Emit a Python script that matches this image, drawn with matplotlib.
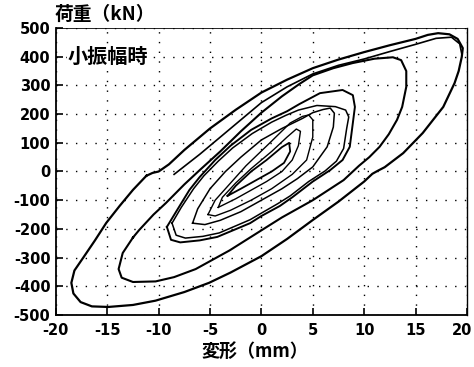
import matplotlib
matplotlib.use("Agg")
import matplotlib.pyplot as plt
from matplotlib.transforms import ScaledTranslation

plt.rcParams['font.family'] = ['Noto Sans CJK JP', 'DejaVu Sans']
plt.rcParams['axes.unicode_minus'] = False

# --- data: deformation (mm) / load (kN) ---
# loop A: largest cycle (+-20 mm)
loop_a_x = [-11.2, -10.6, -10.0, -9.0, -7.5, -5.0, -2.5, 0.0, 2.5, 5.0, 7.5, 10.0, 12.5, 15.0, 16.2,
            17.2, 18.3, 19.1, 19.6, 19.5, 19.2, 18.8, 17.7, 15.7, 13.8, 12.0, 11.3, 10.8, 10.0, 7.5,
            5.0, 2.5, 0.0, -3.0, -5.1, -7.5, -10.3, -12.5, -14.9, -16.5, -17.6, -18.3, -18.5,
            -18.2, -17.3, -16.2, -15.1, -13.8, -12.5, -11.2]
loop_a_y = [-15, -5, 0, 25, 75, 150, 215, 275, 320, 360, 390, 416, 440, 462, 476,
            482, 478, 462, 430, 399, 350, 308, 225, 134, 64, 15, 2, -8, -35, -105,
            -169, -235, -295, -352, -388, -420, -450, -465, -472, -470, -455, -425, -388,
            -345, -298, -240, -179, -120, -64, -15]
# second trace of the large cycle (upper branch only)
loop_a2_x = [-8.5, -6.0, -3.0, 0.0, 2.5, 5.0, 7.5, 10.0, 12.5, 15.0, 17.0, 18.5, 19.3, 19.5]
loop_a2_y = [-10, 60, 150, 240, 295, 340, 370, 392, 418, 443, 464, 468, 445, 410]
# loop B (+-14 mm)
loop_b_x = [-12.5, -11.9, -10.5, -9.3, -7.5, -6.0, -4.0, -2.0, 0.0, 2.0, 3.7, 5.0, 7.0, 8.9,
            11.0, 12.8, 13.6, 14.1, 14.1, 13.7, 13.2, 12.4, 11.5, 10.5, 9.5, 8.0, 6.5, 5.0, 2.0,
            0.0, -3.1, -6.4, -8.5, -10.3, -12.5, -13.6, -13.9, -13.5, -12.5]
loop_b_y = [-230, -204, -150, -110, -45, 5, 70, 140, 205, 262, 305, 335, 360, 378,
            393, 398, 388, 350, 295, 225, 180, 130, 86, 50, 20, -30, -65, -100, -160,
            -205, -275, -340, -368, -383, -385, -370, -340, -284, -230]
# loop C (+-9 mm), two traces
loop_c_x = [-9.2, -8.2, -7.0, -6.0, -4.5, -3.0, -1.0, 1.0, 2.5, 3.7, 5.7, 7.9, 8.9, 9.1, 8.9,
            8.6, 7.9, 6.7, 5.0, 3.0, 1.8, 0.0, -1.1, -4.3, -6.0, -7.9, -8.8, -9.2]
loop_c_y = [-193, -134, -64, -19, 40, 90, 145, 185, 210, 235, 273, 284, 266, 225, 169,
            86, 40, 5, -35, -90, -120, -155, -180, -228, -240, -247, -238, -193]
loop_c2_x = [-8.7, -7.8, -6.6, -5.6, -4.2, -2.8, -0.9, 1.0, 2.4, 3.6, 5.4, 7.2, 8.2, 8.5, 8.3,
             8.0, 7.3, 6.2, 4.6, 2.8, 1.6, 0.0, -1.1, -4.1, -5.7, -7.4, -8.3, -8.7]
loop_c2_y = [-180, -125, -60, -15, 36, 82, 132, 172, 196, 214, 230, 226, 214, 190, 150,
             80, 36, 2, -35, -85, -112, -145, -168, -214, -226, -232, -222, -180]
# loop D (+-7 mm)
loop_d_x = [-6.7, -6.2, -5.0, -3.5, -2.0, 0.0, 2.0, 4.0, 5.0, 6.0, 6.7, 7.1, 7.0, 6.4, 5.0,
            3.5, 2.0, 0.0, -2.0, -4.0, -5.5, -6.7]
loop_d_y = [-180, -130, -60, 0, 50, 110, 150, 185, 205, 216, 221, 203, 155, 86, 16,
            -25, -60, -100, -140, -170, -185, -180]
# loop E (+-5 mm)
loop_e_x = [-5.2, -4.5, -3.0, -1.5, 0.8, 2.8, 4.0, 4.6, 5.0, 5.0, 4.4, 3.0, 1.0, -1.0, -3.0,
            -4.5, -5.2]
loop_e_y = [-150, -100, -40, 20, 99, 169, 192, 197, 180, 120, 40, -10, -60, -100, -135,
            -155, -150]
# loop F (+-4 mm)
loop_f_x = [-4.2, -3.8, -2.5, -1.0, 1.0, 2.5, 3.4, 3.8, 3.6, 3.0, 2.0, 0.5, -1.0, -2.5, -3.8, -4.2]
loop_f_y = [-125, -90, -40, 10, 70, 120, 148, 140, 90, 40, 0, -35, -65, -95, -118, -125]
# loop G (+-3 mm)
loop_g_x = [-3.3, -2.5, -1.0, 0.5, 2.0, 2.7, 2.8, 2.2, 1.0, -0.5, -2.0, -3.3]
loop_g_y = [-85, -50, 0, 40, 85, 100, 70, 30, 0, -30, -60, -85]

x_ticks = [-20, -15, -10, -5, 0, 5, 10, 15, 20]
y_ticks = [-500, -400, -300, -200, -100, 0, 100, 200, 300, 400, 500]

fig = plt.figure(figsize=(4.74, 3.67), dpi=100)
ax = fig.add_axes([0.118, 0.1417, 0.867, 0.782])

loops = [(loop_a_x, loop_a_y, 1.6), (loop_a2_x, loop_a2_y, 1.2),
         (loop_b_x, loop_b_y, 1.5), (loop_c_x, loop_c_y, 1.4),
         (loop_c2_x, loop_c2_y, 1.1), (loop_d_x, loop_d_y, 1.1),
         (loop_e_x, loop_e_y, 1.0), (loop_f_x, loop_f_y, 1.0),
         (loop_g_x, loop_g_y, 1.3)]
for lx, ly, lw in loops:
    ax.plot(lx, ly, color='black', lw=lw, solid_joinstyle='round', zorder=3)

ax.set_xlim(-20, 20)
ax.set_ylim(-500, 500)
ax.set_xticks(x_ticks)
ax.set_yticks(y_ticks)
ax.grid(True, color='black', lw=1.0, linestyle=(0, (1, 6)))
ax.tick_params(direction='in', length=5, width=1.2, labelsize=10.5)
ax.tick_params(axis='x', pad=6)
ax.tick_params(axis='y', pad=4)
for lab in ax.get_xticklabels() + ax.get_yticklabels():
    lab.set_fontweight('bold')
    lab.set_family('DejaVu Sans')
# keep the last x label inside the figure
last = ax.get_xticklabels()[-1]
last.set_transform(last.get_transform() + ScaledTranslation(-5 / 100, 0, fig.dpi_scale_trans))

ax.spines['left'].set_linewidth(1.3)
ax.spines['bottom'].set_linewidth(1.3)
ax.spines['right'].set_linewidth(1.0)
ax.spines['top'].set_linewidth(0.6)

ax.text(-18.9, 402, '小振幅時', fontsize=14.5, fontweight='bold', va='center', ha='left',
        bbox=dict(facecolor='white', edgecolor='none', pad=0.5), zorder=4)
fig.text(55 / 474, 1 - 14 / 367, '荷重（kN）', fontsize=13.5, fontweight='bold',
         ha='left', va='center')
fig.text(255 / 474, 1 - 351 / 367, '変形（mm）', fontsize=13, fontweight='bold',
         ha='center', va='center')

fig.savefig('out.png', dpi=100)
